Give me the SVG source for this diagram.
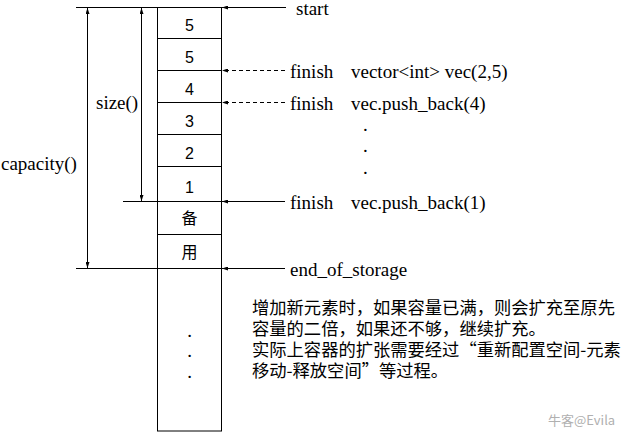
<svg xmlns="http://www.w3.org/2000/svg" width="630" height="439" viewBox="0 0 630 439">
<style>
.ln{stroke:#000;stroke-width:1;fill:none}
.dash{stroke-dasharray:4 3}
.ser{font-family:"Liberation Serif","Times New Roman",serif;font-size:19px;fill:#000}
.num{font-family:"Liberation Sans",Arial,sans-serif;font-size:16px;fill:#000;text-anchor:middle}
.cjk{font-family:"Noto Sans CJK SC",sans-serif;font-size:17.3px;fill:#000}
.cell{font-family:"Noto Sans CJK SC",sans-serif;font-size:16px;fill:#000;text-anchor:middle}
.wm{font-family:"Noto Sans CJK SC",sans-serif;font-size:13px;fill:#b0b0b0}
</style>
<defs>
<marker id="ah" viewBox="0 0 6 4" refX="6" refY="2" markerWidth="6" markerHeight="4" markerUnits="userSpaceOnUse" orient="auto-start-reverse">
<path d="M0,0 L6,2 L0,4 z" fill="#000"/>
</marker>
</defs>

<g id="memory">
<line class="ln" x1="157.5" y1="7" x2="157.5" y2="431"/>
<line class="ln" x1="221.5" y1="7" x2="221.5" y2="431"/>
<line class="ln" x1="76" y1="7.5" x2="222" y2="7.5"/>
<line class="ln" x1="157" y1="431" x2="222" y2="431"/>
</g>
<g id="cell5a"><text class="num" x="189.5" y="31">5</text></g>
<g id="cell5b"><line class="ln" x1="157" y1="38.5" x2="222" y2="38.5"/><text class="num" x="189.5" y="63">5</text></g>
<g id="cell4"><line class="ln" x1="157" y1="70.5" x2="222" y2="70.5"/><text class="num" x="189.5" y="95">4</text></g>
<g id="cell3"><line class="ln" x1="157" y1="102.5" x2="222" y2="102.5"/><text class="num" x="189.5" y="127">3</text></g>
<g id="cell2"><line class="ln" x1="157" y1="134.5" x2="222" y2="134.5"/><text class="num" x="189.5" y="159">2</text></g>
<g id="cell1"><line class="ln" x1="157" y1="166.5" x2="222" y2="166.5"/><text class="num" x="189.5" y="193">1</text></g>
<g id="cellbei"><line class="ln" x1="123" y1="201.5" x2="222" y2="201.5"/><text class="cell" x="189.5" y="224">备</text></g>
<g id="cellyong"><line class="ln" x1="157" y1="234.5" x2="222" y2="234.5"/><text class="cell" x="189.5" y="258">用</text></g>
<g id="cellrest">
<line class="ln" x1="76" y1="268.5" x2="222" y2="268.5"/>
<text class="ser" x="189.5" y="337" text-anchor="middle">.</text>
<text class="ser" x="189.5" y="357" text-anchor="middle">.</text>
<text class="ser" x="189.5" y="378" text-anchor="middle">.</text>
</g>

<g id="connectors">
<line class="ln" x1="141.5" y1="8" x2="141.5" y2="201" marker-start="url(#ah)" marker-end="url(#ah)"/>
<line class="ln" x1="87.5" y1="8" x2="87.5" y2="268" marker-start="url(#ah)" marker-end="url(#ah)"/>
<line class="ln" x1="286" y1="7.5" x2="222" y2="7.5" marker-end="url(#ah)"/>
<line class="ln dash" x1="285" y1="70.5" x2="222" y2="70.5" marker-end="url(#ah)"/>
<line class="ln dash" x1="285" y1="102.5" x2="222" y2="102.5" marker-end="url(#ah)"/>
<line class="ln" x1="285" y1="201.5" x2="222" y2="201.5" marker-end="url(#ah)"/>
<line class="ln" x1="285" y1="268.5" x2="222" y2="268.5" marker-end="url(#ah)"/>
</g>

<g id="labels">
<text class="ser" x="96" y="109">size()</text>
<text class="ser" x="1" y="170">capacity()</text>
<text class="ser" x="296" y="14.5">start</text>
<text class="ser" x="290" y="78">finish</text>
<text class="ser" x="351" y="78">vector&lt;int&gt; vec(2,5)</text>
<text class="ser" x="290" y="110">finish</text>
<text class="ser" x="351" y="110">vec.push_back(4)</text>
<text class="ser" x="363" y="131">.</text>
<text class="ser" x="363" y="152">.</text>
<text class="ser" x="363" y="174">.</text>
<text class="ser" x="290" y="209">finish</text>
<text class="ser" x="351" y="209">vec.push_back(1)</text>
<text class="ser" x="290" y="276">end_of_storage</text>
</g>

<g id="note">
<text class="cjk" x="252" y="314">增加新元素时，如果容量已满，则会扩充至原先</text>
<text class="cjk" x="252" y="335">容量的二倍，如果还不够，继续扩充。</text>
<text class="cjk" x="252" y="356">实际上容器的扩张需要经过“重新配置空间-元素</text>
<text class="cjk" x="252" y="377">移动-释放空间”等过程。</text>
</g>

<g id="watermark">
<text class="wm" x="548" y="425">牛客@Evila</text>
</g>
</svg>
